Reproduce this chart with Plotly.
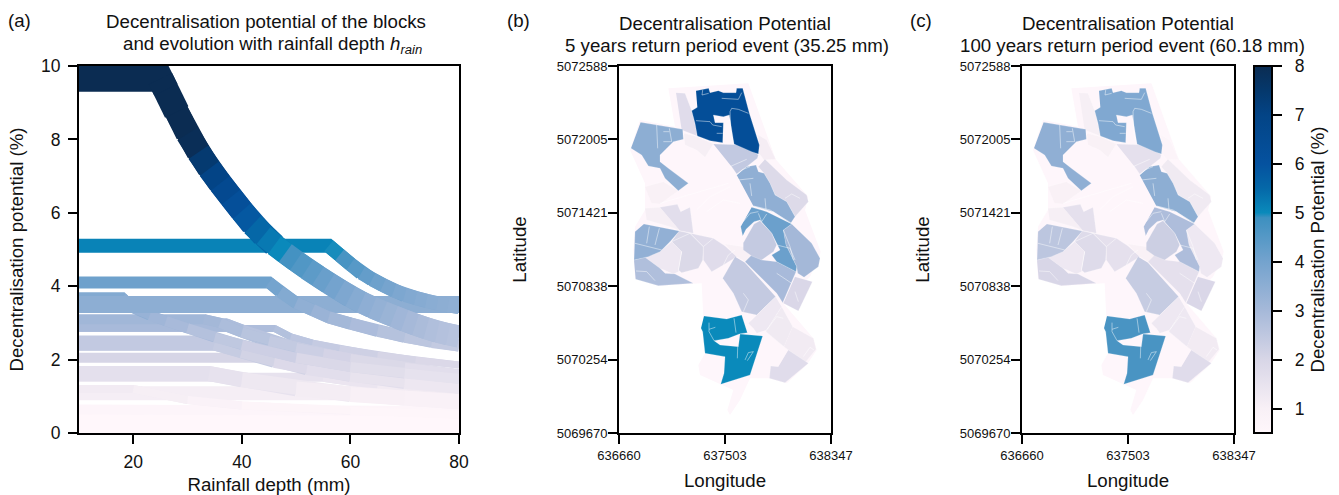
import plotly.graph_objects as go
from plotly.colors import sample_colorscale

W, H = 1339, 495
VMIN, VMAX = 0.5, 8.0
CMAP_VALUES = [0.5, 1.0, 2.0, 3.0, 4.0, 4.9, 5.0, 5.5, 6.0, 7.0, 7.5, 8.0]
CMAP_COLORS = ["#fff7fb", "#f8f0f6", "#d8d6e7", "#a6b9d9", "#74a3ce", "#3d90c0",
               "#0a8abb", "#0568a8", "#05529f", "#034486", "#05386c", "#0b2c52"]
CSCALE = [[(v - VMIN) / (VMAX - VMIN), c] for v, c in zip(CMAP_VALUES, CMAP_COLORS)]


def col(v):
    t = min(max((v - VMIN) / (VMAX - VMIN), 0), 1)
    return sample_colorscale(CSCALE, [t])[0]


# ---- panel (a): potential (%) against rainfall depth (mm)
MAIN_H = [10, 25, 26, 28, 30, 32, 34, 36, 38, 40, 42, 44, 46, 48, 50, 52, 54, 56, 58, 60,
          62, 64, 66, 68, 70, 72, 74, 76, 78, 80]
MAIN_P = [9.65, 9.65, 9.35, 8.75, 8.15, 7.65, 7.2, 6.8, 6.43, 6.05, 5.68, 5.38, 5.12, 4.9, 4.68,
          4.47, 4.28, 4.08, 3.9, 3.72, 3.56, 3.42, 3.3, 3.18, 3.06, 2.95, 2.85, 2.76, 2.69, 2.63]
MAIN_W = [26, 26, 24, 24, 24, 24, 24, 24, 24, 24, 24, 22, 22, 22, 22, 22, 22, 22, 22, 22, 22, 22,
          22, 22, 22, 22, 22, 22, 22, 22]
TEAL_H = [10, 56, 58, 60, 62, 64, 66, 68, 70, 72, 74, 76, 78, 80]
TEAL_P = [5.1, 5.1, 4.85, 4.6, 4.36, 4.18, 4.03, 3.88, 3.76, 3.68, 3.6, 3.53, 3.48, 3.43]
B41_H = [10, 45, 47, 50, 53, 56, 60, 65, 70, 75, 80]
B41_P = [4.1, 4.1, 3.85, 3.55, 3.35, 3.15, 2.98, 2.78, 2.62, 2.48, 2.38]
B35_H = [10, 80]
B35_P = [3.5, 3.5]
B37_H = [10, 18, 20, 23, 26, 30, 35, 40, 50, 60, 70, 80]
B37_P = [3.7, 3.7, 3.4, 3.2, 3.05, 2.85, 2.6, 2.4, 2.05, 1.8, 1.62, 1.48]
B34_H = [10, 33, 36, 40, 45, 50, 55, 60, 70, 80]
B34_P = [3.1, 3.1, 3.0, 2.75, 2.52, 2.32, 2.16, 2.02, 1.78, 1.6]
B31_H = [10, 37, 40, 45, 50, 55, 60, 70, 80]
B31_P = [2.95, 2.95, 2.78, 2.5, 2.3, 2.12, 1.98, 1.72, 1.55]
B29_H = [10, 46, 49, 53, 58, 65, 72, 80]
B29_P = [2.85, 2.85, 2.62, 2.45, 2.3, 2.12, 1.98, 1.85]
B26_H = [10, 35, 40, 46, 52, 60, 70, 80]
B26_P = [2.45, 2.45, 2.25, 1.98, 1.78, 1.6, 1.4, 1.28]
B23_H = [10, 47, 52, 60, 70, 80]
B23_P = [2.35, 2.35, 2.1, 1.85, 1.62, 1.45]
B21_H = [10, 55, 60, 70, 80]
B21_P = [2.05, 2.05, 1.9, 1.68, 1.5]
B17_H = [10, 34, 40, 50, 60, 70, 80]
B17_P = [1.62, 1.62, 1.45, 1.2, 1.05, 0.95, 0.85]
B15_H = [10, 55, 65, 80]
B15_P = [1.52, 1.52, 1.3, 1.05]
B12_H = [10, 20, 30, 40, 60, 80]
B12_P = [1.2, 1.2, 0.9, 0.75, 0.6, 0.5]
B10_H = [10, 68, 80]
B10_P = [1.08, 1.08, 0.9]
B07_H = [10, 80]
B07_P = [0.64, 0.6]
B04_H = [10, 80]
B04_P = [0.4, 0.4]
B01_H = [10, 80]
B01_P = [0.16, 0.16]

# (depths, potentials, stroke px), lightest drawn first
CURVES = [(B01_H, B01_P, 13), (B04_H, B04_P, 14), (B07_H, B07_P, 10), (B10_H, B10_P, 14),
          (B12_H, B12_P, 8), (B15_H, B15_P, 9), (B17_H, B17_P, 15), (B21_H, B21_P, 10),
          (B23_H, B23_P, 8), (B26_H, B26_P, 15), (B29_H, B29_P, 7), (B31_H, B31_P, 13),
          (B34_H, B34_P, 10), (B37_H, B37_P, 10), (B35_H, B35_P, 17), (B41_H, B41_P, 12),
          (TEAL_H, TEAL_P, 14), (MAIN_H, MAIN_P, MAIN_W)]

# ---- panels (b), (c): block outlines digitised on a 1/3-cell sheet
SHEET_LON0, SHEET_DLON = 636660.0, 2.653
SHEET_LAT0, SHEET_DLAT = 5072588.0, 2.650

OUTLINE = [(175, 55), (415, 40), (497, 268), (595, 380), (585, 420), (632, 545), (628, 560), (600, 620),
           (520, 700), (610, 805), (620, 840), (590, 885), (530, 940), (475, 925), (420, 925), (390, 990),
           (360, 1035), (352, 1020), (370, 960), (335, 945), (270, 915), (265, 885), (285, 850), (275, 640),
           (145, 647), (75, 625), (70, 540), (75, 470), (105, 420), (105, 340), (60, 240), (90, 150), (195, 170)]

BLOCKS = [
    # polygon, value in (b), value in (c)
    ([(198, 68), (225, 70), (245, 122), (255, 160), (262, 198), (215, 180)], 1.75, 1.05),
    ([(222, 190), (262, 200), (310, 222), (285, 262), (260, 240), (225, 225)], 1.05, 0.95),
    ([(445, 195), (470, 210), (497, 268), (462, 270), (447, 250)], 1.1, 0.7),
    ([(105, 350), (160, 335), (205, 362), (150, 402), (125, 400)], 0.95, 0.95),
    ([(105, 415), (150, 412), (210, 482), (180, 470), (110, 450)], 1.05, 1.05),
    ([(150, 412), (202, 403), (212, 425), (240, 412), (250, 490), (210, 482)], 1.7, 1.6),
    ([(310, 222), (405, 225), (445, 255), (442, 265), (410, 290), (380, 312), (365, 290)], 2.45, 1.6),
    ([(465, 268), (530, 330), (590, 375), (595, 395), (555, 440), (530, 395), (495, 375), (480, 340), (462, 310), (445, 290)], 1.85, 1.25),
    ([(520, 480), (545, 462), (605, 520), (630, 565), (625, 590), (582, 622), (563, 610), (560, 590), (528, 525)], 3.05, 1.3),
    ([(345, 522), (400, 530), (430, 555), (405, 575), (380, 560)], 0.95, 0.95),
    ([(208, 483), (240, 490), (280, 530), (278, 570), (265, 595), (215, 608), (205, 600), (215, 545), (185, 515)], 1.9, 1.8),
    ([(240, 490), (310, 505), (345, 528), (380, 560), (340, 585), (305, 605), (280, 570), (280, 530)], 1.75, 1.6),
    ([(105, 562), (150, 545), (185, 515), (215, 545), (205, 605), (190, 612), (150, 595)], 1.3, 1.3),
    ([(72, 570), (105, 562), (150, 595), (165, 610), (195, 612), (250, 640), (145, 647), (77, 628)], 2.8, 2.0),
    ([(102, 462), (208, 483), (180, 515), (150, 545), (115, 560), (72, 570), (75, 485)], 3.4, 2.55),
    ([(375, 560), (338, 625), (370, 670), (395, 725), (440, 735), (497, 680), (405, 578)], 2.4, 2.35),
    ([(430, 550), (405, 575), (500, 670), (518, 698), (558, 605), (500, 575), (455, 570)], 2.95, 1.6),
    ([(555, 620), (607, 635), (565, 723), (520, 700)], 1.95, 1.95),
    ([(415, 760), (440, 735), (497, 680), (515, 710), (470, 780), (440, 790), (430, 775)], 1.3, 1.3),
    ([(470, 780), (515, 710), (548, 770), (522, 830), (468, 785)], 1.25, 1.3),
    ([(548, 770), (610, 805), (618, 838), (585, 878), (522, 830)], 1.2, 1.2),
    ([(535, 840), (595, 880), (525, 938), (478, 925), (482, 888), (505, 890)], 1.75, 1.75),
    ([(92, 157), (218, 178), (220, 208), (190, 215), (150, 255), (150, 275), (175, 295), (235, 340), (205, 362), (165, 325), (150, 295), (115, 288), (95, 255), (63, 235)], 3.5, 3.45),
    ([(380, 315), (410, 290), (438, 285), (445, 305), (462, 310), (480, 340), (495, 375), (530, 395), (555, 440), (542, 460), (490, 425), (430, 408)], 3.45, 3.5),
    ([(425, 412), (470, 425), (545, 462), (520, 480), (528, 525), (560, 590), (558, 605), (500, 575), (485, 555), (510, 540), (485, 490), (450, 450), (432, 455), (408, 478), (398, 498), (392, 470)], 4.15, 2.85),
    ([(400, 518), (432, 462), (450, 452), (485, 490), (500, 525), (490, 545), (455, 570), (425, 558), (400, 540)], 2.4, 2.25),
    ([(258, 62), (296, 55), (300, 68), (325, 62), (340, 68), (378, 68), (380, 55), (398, 55), (418, 130), (448, 225), (445, 252), (425, 245), (372, 222), (358, 135), (340, 140), (310, 135), (315, 158), (340, 158), (338, 218), (300, 212), (262, 198), (255, 160), (245, 122), (262, 112)], 6.3, 3.75),
    ([(282, 738), (350, 747), (395, 735), (412, 788), (388, 792), (355, 805), (312, 812), (330, 825), (385, 830), (390, 792), (458, 798), (420, 915), (332, 943), (342, 910), (345, 860), (285, 850), (278, 785), (273, 775)], 5.0, 4.7),
]

STREETS = [
    [(258, 152), (300, 155), (308, 165), (335, 170)], [(320, 190), (338, 190)], [(335, 85), (385, 88), (395, 68)],
    [(360, 125), (365, 115), (385, 118), (415, 130)], [(360, 125), (362, 185), (370, 220)], [(278, 60), (276, 75), (296, 70)],
    [(140, 165), (143, 235)], [(160, 215), (185, 215), (178, 175)], [(160, 185), (178, 185)],
    [(360, 290), (410, 268)], [(380, 315), (395, 300), (420, 290)], [(385, 330), (430, 325)], [(420, 340), (425, 378)],
    [(465, 385), (468, 420)], [(430, 408), (480, 420), (545, 460)], [(525, 385), (545, 372), (570, 385)],
    [(400, 455), (420, 430), (445, 425)], [(445, 430), (455, 455), (470, 432)], [(500, 525), (540, 535), (555, 570)],
    [(520, 480), (540, 530), (550, 570)], [(75, 520), (155, 540)], [(118, 470), (110, 520)], [(148, 475), (135, 525)],
    [(185, 515), (240, 490)], [(240, 490), (280, 530), (310, 505)], [(150, 400), (270, 365), (355, 340)],
    [(260, 420), (300, 380), (360, 350)], [(290, 425), (340, 390), (390, 400)], [(340, 585), (355, 555), (375, 540)],
    [(78, 603), (110, 605), (135, 632)], [(205, 600), (215, 545)], [(400, 670), (415, 690), (400, 725)],
    [(500, 610), (545, 640)], [(297, 758), (297, 785), (312, 812)], [(297, 778), (316, 772)], [(372, 745), (378, 788)],
    [(383, 830), (382, 865)], [(405, 870), (415, 848), (430, 845), (420, 860), (412, 872)], [(470, 780), (500, 740), (520, 745)],
    [(565, 695), (555, 665)], [(580, 860), (600, 832), (612, 840)],
]

LON_TICKS = [636660, 637503, 638347]
LAT_TICKS = [5069670, 5070254, 5070838, 5071421, 5072005, 5072588]
P_TICKS = [0, 2, 4, 6, 8, 10]
H_TICKS = [20, 40, 60, 80]
CB_TICKS = [1, 2, 3, 4, 5, 6, 7, 8]


def lon(u):
    return SHEET_LON0 + (u - 27) * SHEET_DLON


def lat(v):
    return SHEET_LAT0 - (v + 12) * SHEET_DLAT


fig = go.Figure()
FONT = "Liberation Sans, Arial, sans-serif"


def dom(a, b, size):
    return [a / size, b / size]


lay = dict(
    width=W, height=H, margin=dict(l=0, r=0, t=0, b=0, autoexpand=False), paper_bgcolor="white", plot_bgcolor="white",
    showlegend=False, font=dict(family=FONT, color="#111111"),
)
for name, x0, x1, xr, xt, xtitle in [
    ("", 79, 459, [10, 80], H_TICKS, "Rainfall depth (mm)"),
    ("2", 619, 831, [636660, 638347], LON_TICKS, "Longitude"),
    ("3", 1022, 1234, [636660, 638347], LON_TICKS, "Longitude"),
]:
    big = name == ""
    lay["xaxis" + name] = dict(
        domain=dom(x0, x1, W), anchor="y" + name, range=xr, tickmode="array", tickvals=xt, ticktext=[str(t) for t in xt],
        showgrid=False, zeroline=False, showline=True, mirror=True, linecolor="black", linewidth=2, ticks="outside",
        ticklen=9, tickwidth=2, tickcolor="black", tickfont=dict(size=17.5 if big else 13), ticklabelstandoff=3 if big else 0,
        title=dict(text=xtitle, font=dict(size=18.7), standoff=12),
    )
    lay["yaxis" + name] = dict(
        domain=[1 - 433 / H, 1 - 66 / H], anchor="x" + name, range=[0, 10] if big else [5069670, 5072588],
        tickmode="array", tickvals=P_TICKS if big else LAT_TICKS, ticktext=[str(t) for t in (P_TICKS if big else LAT_TICKS)],
        showgrid=False, zeroline=False, showline=True, mirror=True, linecolor="black", linewidth=2, ticks="outside",
        ticklen=9, tickwidth=2, tickcolor="black", tickfont=dict(size=17.5 if big else 13), ticklabelstandoff=4 if big else -2,
        title=dict(text="Decentralisation potential (%)" if big else "Latitude", font=dict(size=18.7), standoff=12 if big else 25),
    )

# panel (a): one stroke per reading, coloured by its potential; each stroke runs on to the
# next reading so the following colour paints over the joint
for hs, ps, w in CURVES:
    for i in range(len(hs) - 1):
        j = min(i + 2, len(hs) - 1)
        fig.add_trace(go.Scatter(
            x=hs[i:j + 1], y=ps[i:j + 1], mode="lines", xaxis="x", yaxis="y",
            line=dict(color=col((ps[i] + ps[i + 1]) / 2), width=w[i] if isinstance(w, list) else w), hoverinfo="skip",
        ))

# panels (b), (c)
for xa, ya, idx in [("x2", "y2", 1), ("x3", "y3", 2)]:
    fig.add_trace(go.Scatter(
        x=[lon(p[0]) for p in OUTLINE], y=[lat(p[1]) for p in OUTLINE], mode="lines", fill="toself",
        fillcolor="#fef6fb", line=dict(width=0), xaxis=xa, yaxis=ya, hoverinfo="skip",
    ))
    for b in BLOCKS:
        fig.add_trace(go.Scatter(
            x=[lon(p[0]) for p in b[0]], y=[lat(p[1]) for p in b[0]], mode="lines", fill="toself",
            fillcolor=col(b[idx]), line=dict(width=0.4, color="rgba(255,255,255,0.5)"), xaxis=xa, yaxis=ya, hoverinfo="skip",
        ))
    for s in STREETS:
        fig.add_trace(go.Scatter(
            x=[lon(p[0]) for p in s], y=[lat(p[1]) for p in s], mode="lines",
            line=dict(width=0.7, color="rgba(255,255,255,0.65)"), xaxis=xa, yaxis=ya, hoverinfo="skip",
        ))

# colour bar, carried by an invisible marker trace
fig.add_trace(go.Scatter(
    x=[lon(BLOCKS[-1][0][0][0])], y=[lat(BLOCKS[-1][0][0][1])], mode="markers", xaxis="x3", yaxis="y3",
    hoverinfo="skip",
    marker=dict(
        size=1, opacity=0, color=[BLOCKS[-1][2]], colorscale=CSCALE, cmin=VMIN, cmax=VMAX, showscale=True,
        colorbar=dict(
            x=1254 / W, xanchor="left", y=1 - 433 / H, yanchor="bottom", len=367 / H, lenmode="fraction",
            thickness=18, thicknessmode="pixels", xpad=0, ypad=0, outlinecolor="black", outlinewidth=2,
            tickmode="array", tickvals=CB_TICKS, ticktext=["\u00a0\u00a0" + str(t) for t in CB_TICKS], ticks="outside", ticklen=9, tickwidth=2,
            tickcolor="black", tickfont=dict(size=17.5, family=FONT, color="#111111"),
            title=dict(text="Decentralisation Potential (%)", side="right", font=dict(size=18.7, family=FONT, color="#111111")),
        ),
    ),
))


def label(px, py, text, size=18.7, anchor="center"):
    return dict(
        xref="paper", yref="paper", x=px / W, y=1 - py / H, text=text, showarrow=False, xanchor=anchor, yanchor="middle",
        font=dict(size=size, family=FONT, color="#111111"),
    )


lay["annotations"] = [
    label(6, 20, "(a)", anchor="left"), label(505, 20, "(b)", anchor="left"), label(908, 20, "(c)", anchor="left"),
    label(266, 22, "Decentralisation potential of the blocks"),
    label(272, 45, "and evolution with rainfall depth <i>h</i><sub><i>rain</i></sub>"),
    label(725, 24, "Decentralisation Potential"),
    label(727, 45, "5 years return period event (35.25 mm)"),
    label(1128, 24, "Decentralisation Potential"),
    label(1132, 45, "100 years return period event (60.18 mm)"),
]
fig.update_layout(**lay)
fig.write_html("out.html", config=dict(displayModeBar=False),
               post_script="document.body.style.margin='0';document.body.style.overflow='hidden';")
